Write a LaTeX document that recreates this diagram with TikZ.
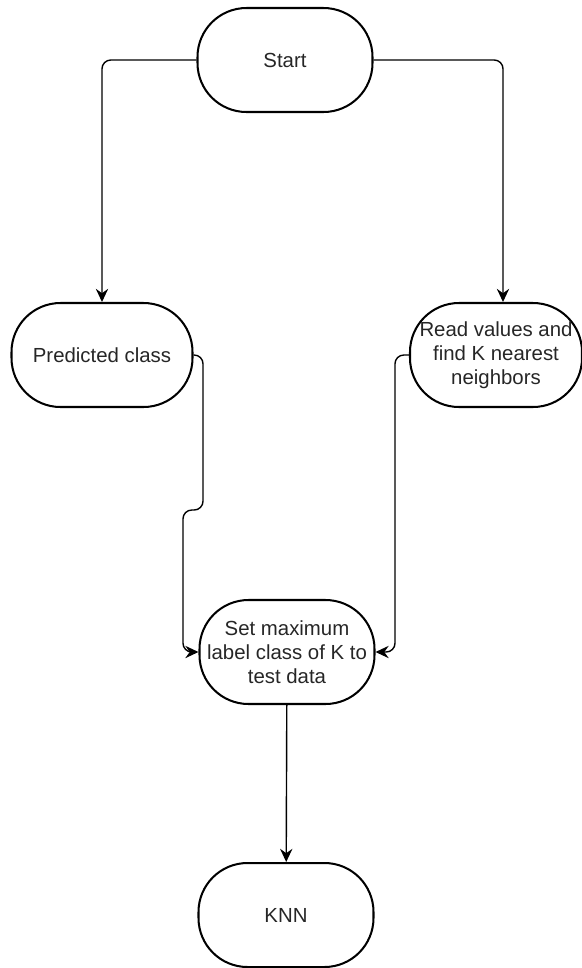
\documentclass[tikz,border=0pt]{standalone}
\usepackage{fontspec}
\setmainfont{Liberation Sans}
\usetikzlibrary{arrows.meta}

\begin{document}
\begin{tikzpicture}[n/.style={draw, line width=1.15pt, rounded corners=0.98cm, minimum width=3.5cm, minimum height=2.08cm, inner sep=0pt, align=center, font=\fontsize{11.6}{13.6}\selectfont, text=black!85},
    arr/.style={draw, line width=0.8pt, rounded corners=5pt, -{Stealth[length=7.5pt, width=7pt, inset=2.5pt]}}]
            \useasboundingbox (0,0) rectangle (11.64,-19.36);

            \node[n] (start) at (5.70, -1.20) {Start};
            \node[n, minimum width=3.62cm] (pred) at (2.04, -7.10) {Predicted class};
            \node[n, minimum width=3.44cm] (read) at (9.92, -7.10) {Read values and\\find K nearest\\neighbors};
            \node[n] (set) at (5.74, -13.04) {Set maximum\\label class of K to\\test data};
            \node[n] (knn) at (5.72, -18.30) {KNN};

            \draw[arr] (start.west) -| (pred.north);
            \draw[arr] (start.east) -| ([xshift=0.14cm]read.north);
            \draw[arr] (pred.east) -- (4.06, -7.10) -- (4.06, -10.20) -- (3.66, -10.20) -- (3.66,0 |- set.west) -- (set.west);
            \draw[arr] (read.west) -- (7.90, -7.10) -- (7.90,0 |- set.east) -- (set.east);
            \draw[arr, rounded corners=0pt] (set) -- (knn);
        \end{tikzpicture}
\end{document}
